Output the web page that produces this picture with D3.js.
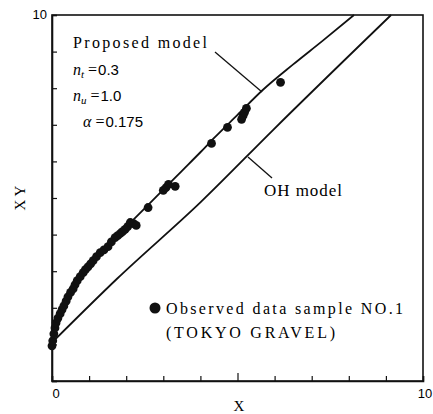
<!DOCTYPE html>
<html>
<head>
<meta charset="utf-8">
<script src="https://cdn.jsdelivr.net/npm/d3@7"></script>
<style>
  html, body { margin: 0; padding: 0; background: #fff; }
  svg { display: block; }
</style>
</head>
<body>
<script>
// ---- data ----
const observedX = [0, 0.02, 0.05, 0.08, 0.11, 0.16, 0.22, 0.27, 0.32, 0.38, 0.43, 0.5, 0.57, 0.62, 0.68, 0.76, 0.84, 0.9, 0.97, 1.04, 1.11, 1.2, 1.30, 1.4, 1.51, 1.6, 1.70, 1.77, 1.84, 1.9, 1.97, 2.04, 2.11, 2.2, 2.27, 2.59, 3.00, 3.07, 3.14, 3.32, 4.30, 4.73, 5.11, 5.15, 5.19, 5.24, 6.16];
const observedY = [0.96, 1.1, 1.29, 1.45, 1.59, 1.72, 1.84, 1.95, 2.05, 2.18, 2.30, 2.42, 2.52, 2.63, 2.74, 2.85, 2.96, 3.04, 3.12, 3.2, 3.29, 3.4, 3.51, 3.58, 3.67, 3.8, 3.92, 3.97, 4.03, 4.08, 4.14, 4.22, 4.33, 4.3, 4.25, 4.74, 5.21, 5.28, 5.37, 5.32, 6.49, 6.93, 7.15, 7.25, 7.34, 7.45, 8.16];

const proposedX = [0, 0.1, 0.25, 0.5, 0.75, 1.0, 1.3, 2.0, 3.0, 3.51, 4.0, 4.35, 5.0, 5.68, 6.5, 7.3, 8.14];
const proposedY = [1.0, 1.5, 1.9, 2.4, 2.8, 3.15, 3.5, 4.21, 5.23, 5.75, 6.25, 6.62, 7.27, 7.95, 8.65, 9.3, 10];

const ohX = [0, 1.76, 4.0, 5.95, 9.14];
const ohY = [1.05, 2.8, 4.88, 6.85, 10];

const xTickValues = [0, 1, 2, 3, 4, 5, 6, 7, 8, 9, 10];
const yTickValues = [0, 1, 2, 3, 4, 5, 6, 7, 8, 9, 10];
const xTickLabels = ["0", "10"];
const xTickLabelValues = [0, 10];
const yTickLabels = ["10"];
const yTickLabelValues = [10];

const W = 433, H = 414;
const svg = d3.select("body").append("svg").attr("width", W).attr("height", H);

const x = d3.scaleLinear().domain([0, 10]).range([52, 423]);
const y = d3.scaleLinear().domain([0, 10]).range([381, 15]);

const serif = "'Liberation Serif', 'DejaVu Serif', serif";
const sans = "'Liberation Sans', Arial, sans-serif";

// frame
svg.append("rect")
  .attr("x", x(0)).attr("y", y(10))
  .attr("width", x(10) - x(0)).attr("height", y(0) - y(10))
  .attr("fill", "none").attr("stroke", "#111").attr("stroke-width", 1.6);

// axes with inward ticks
const xAxis = d3.axisBottom(x).tickValues(xTickValues).tickSize(-5).tickFormat("");
const gx = svg.append("g").attr("transform", `translate(0,${y(0)})`).call(xAxis);
gx.selectAll(".tick line").attr("y2", d => d === 5 ? -8 : -5);
const yAxis = d3.axisLeft(y).tickValues(yTickValues).tickSize(-5).tickFormat("");
const gy = svg.append("g").attr("transform", `translate(${x(0)},0)`).call(yAxis);
[gx, gy].forEach(g => {
  g.select(".domain").attr("stroke", "#111").attr("stroke-width", 1.6);
  g.selectAll(".tick line").attr("stroke", "#111").attr("stroke-width", 1.2);
});

// tick labels
svg.selectAll(".xlab").data(xTickLabels).enter().append("text")
  .attr("x", (d, i) => x(xTickLabelValues[i]) + (i === 0 ? 4 : 2))
  .attr("y", 398)
  .attr("text-anchor", "middle")
  .attr("font-family", sans).attr("font-size", 13)
  .text(d => d);
svg.selectAll(".ylab").data(yTickLabels).enter().append("text")
  .attr("x", 47).attr("y", (d, i) => y(yTickLabelValues[i]) + 4)
  .attr("text-anchor", "end")
  .attr("font-family", sans).attr("font-size", 13)
  .text(d => d);

// axis titles
svg.append("text").attr("x", 239).attr("y", 411).attr("text-anchor", "middle")
  .attr("font-family", serif).attr("font-size", 15).text("X");
svg.append("text").attr("transform", "translate(25,198) rotate(-90)").attr("text-anchor", "middle")
  .attr("font-family", serif).attr("font-size", 15).text("X Y");

// lines
const line = d3.line().x(d => x(d[0])).y(d => y(d[1])).curve(d3.curveMonotoneX);
svg.append("path").datum(proposedX.map((v, i) => [v, proposedY[i]]))
  .attr("d", line).attr("fill", "none").attr("stroke", "#111").attr("stroke-width", 1.8);
svg.append("path").datum(ohX.map((v, i) => [v, ohY[i]]))
  .attr("d", line).attr("fill", "none").attr("stroke", "#111").attr("stroke-width", 1.8);

// observed points
svg.selectAll(".pt").data(observedX.map((v, i) => [v, observedY[i]])).enter().append("circle")
  .attr("cx", d => x(d[0])).attr("cy", d => y(d[1])).attr("r", 4.4).attr("fill", "#111");

// annotations: Proposed model
svg.append("text").attr("x", 73).attr("y", 48)
  .attr("font-family", serif).attr("font-size", 16)
  .attr("textLength", 134).attr("lengthAdjust", "spacing")
  .text("Proposed model");
svg.append("line").attr("x1", 215).attr("y1", 52).attr("x2", 262).attr("y2", 92)
  .attr("stroke", "#111").attr("stroke-width", 1.3);

function paramLine(xp, yp, sym, sub, val) {
  const t = svg.append("text").attr("x", xp).attr("y", yp).attr("font-size", 16);
  t.append("tspan").attr("font-family", serif).attr("font-style", "italic").text(sym);
  if (sub) t.append("tspan").attr("font-family", serif).attr("font-style", "italic")
    .attr("font-size", 11).attr("dy", 3).text(sub);
  t.append("tspan").attr("font-family", serif).attr("dy", sub ? -3 : 0).attr("dx", 4).text("=");
  t.append("tspan").attr("font-family", sans).attr("font-size", 15).attr("dx", 1).text(val);
}
paramLine(73, 75, "n", "t", "0.3");
paramLine(73, 101, "n", "u", "1.0");
paramLine(83, 127, "α", null, "0.175");

// OH model
svg.append("line").attr("x1", 248).attr("y1", 157).attr("x2", 272).attr("y2", 178)
  .attr("stroke", "#111").attr("stroke-width", 1.3);
svg.append("text").attr("x", 264).attr("y", 196)
  .attr("font-family", serif).attr("font-size", 17)
  .attr("textLength", 78).attr("lengthAdjust", "spacing")
  .text("OH model");

// legend
svg.append("circle").attr("cx", 155).attr("cy", 308).attr("r", 5.5).attr("fill", "#111");
svg.append("text").attr("x", 166).attr("y", 314)
  .attr("font-family", serif).attr("font-size", 16)
  .attr("textLength", 237).attr("lengthAdjust", "spacing")
  .text("Observed data sample NO.1");
svg.append("text").attr("x", 166).attr("y", 338)
  .attr("font-family", serif).attr("font-size", 16)
  .attr("textLength", 169).attr("lengthAdjust", "spacing")
  .text("(TOKYO GRAVEL)");
</script>
</body>
</html>
